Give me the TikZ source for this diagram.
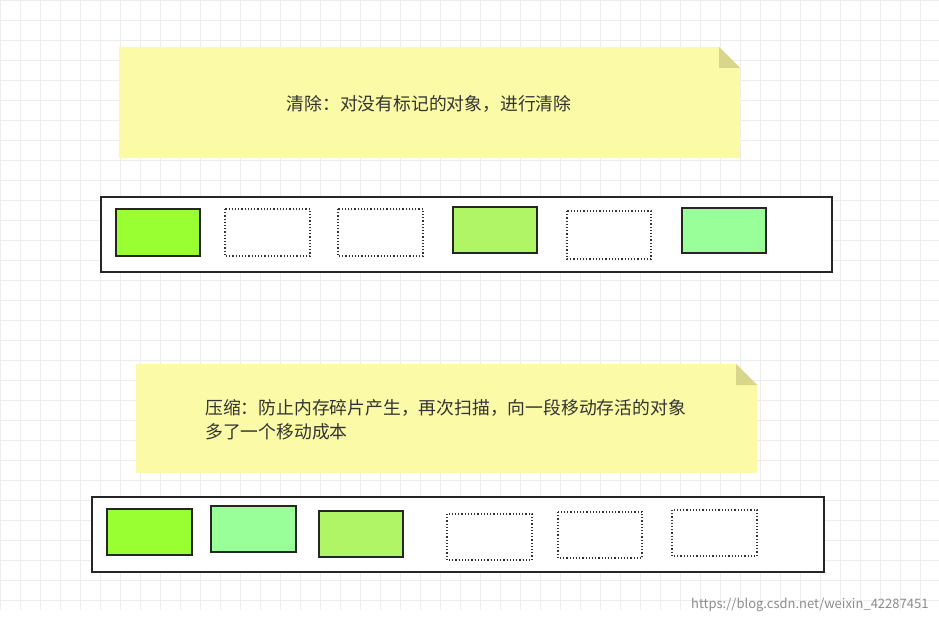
\documentclass[tikz,border=0pt]{standalone}
\usepackage{fontspec}
\setmainfont{Noto Sans CJK SC}
\begin{document}
\begin{tikzpicture}[x=1pt,y=-1pt,
  note/.style={fill=notey,draw=none},
  obj/.style={draw=black!85,line width=1.3pt},
  free/.style={draw=black!80,line width=1.2pt,dotted},
  bar/.style={draw=black!85,line width=1.2pt,fill=white},
  lbl/.style={font=\fontsize{17.8}{24}\selectfont,text=black!80,align=left}]
\definecolor{notey}{HTML}{FBFAA6}
\definecolor{fold}{HTML}{D8D68A}
\definecolor{gA}{HTML}{99FF33}
\definecolor{gB}{HTML}{B0F566}
\definecolor{gC}{HTML}{99FF99}
\useasboundingbox (0,0) rectangle (939,623);
\fill[white] (0,0) rectangle (939,623);
\foreach \i in {0,20,...,920} \draw[black!7,line width=0.5pt] (\i,0) -- (\i,610);
\foreach \j in {0,20,...,600} \draw[black!7,line width=0.5pt] (0,\j) -- (939,\j);
% note 1
\fill[notey] (119,47) -- (719,47) -- (740,68) -- (740,158) -- (119,158) -- cycle;
\fill[fold] (719,47) -- (740,68) -- (719,68) -- cycle;
\node[lbl] (t1) at (429,104) {清除：对没有标记的对象，进行清除};
% bar 1
\draw[bar] (101,197) rectangle (832,272);
\draw[obj,fill=gA] (116,209) rectangle (200,256);
\draw[free] (225,209) rectangle (310,256);
\draw[free] (338,209) rectangle (423,256);
\draw[obj,fill=gB] (453,207) rectangle (537,253);
\draw[free] (567,211) rectangle (651,259);
\draw[obj,fill=gC] (682,208) rectangle (766,253);
% note 2
\fill[notey] (136,364) -- (736,364) -- (757,385) -- (757,473) -- (136,473) -- cycle;
\fill[fold] (736,364) -- (757,385) -- (736,385) -- cycle;
\node[lbl,anchor=west,inner sep=0pt] (t2) at (205,420) {压缩：防止内存碎片产生，再次扫描，向一段移动存活的对象\\多了一个移动成本};
% bar 2
\draw[bar] (92,497) rectangle (824,572);
\draw[obj,fill=gA] (107,509) rectangle (192,555);
\draw[obj,fill=gC] (211,506) rectangle (296,552);
\draw[obj,fill=gB] (319,511) rectangle (403,557);
\draw[free] (447,514) rectangle (532,560);
\draw[free] (558,512) rectangle (642,558);
\draw[free] (672,510) rectangle (757,556);
\node[font=\fontsize{13}{15}\selectfont,text=black!45,anchor=east] (wm) at (932,605) {https://blog.csdn.net/weixin\_42287451};
\end{tikzpicture}
\end{document}
